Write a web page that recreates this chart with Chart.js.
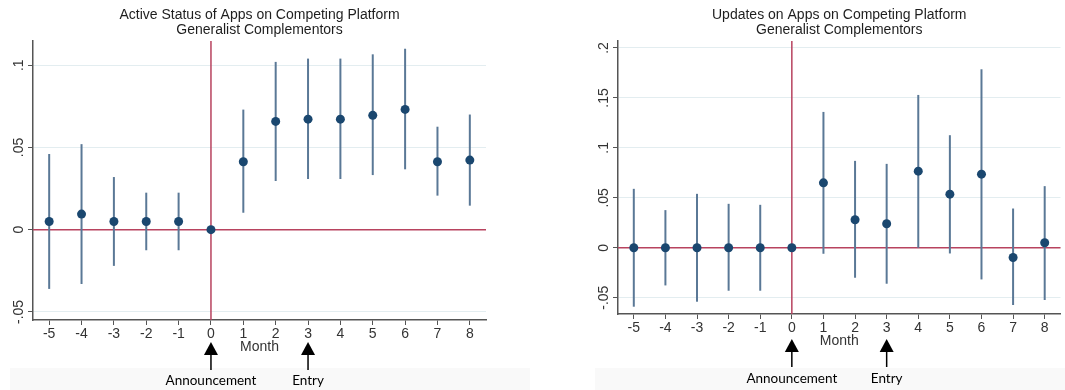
<!DOCTYPE html>
<html>
<head>
<meta charset="utf-8">
<script src="https://cdn.jsdelivr.net/npm/chart.js@4.4.1/dist/chart.umd.min.js"></script>
<style>
  body { margin: 0; background: #fff; width: 1065px; height: 390px; overflow: hidden; position: relative; }
  .panel { position: absolute; top: 0; height: 390px; }
  #p1 { left: 0; width: 540px; }
  #p2 { left: 545px; width: 520px; }
  .band { position: absolute; top: 368px; height: 22px; background: #f9f9f9; }
</style>
</head>
<body>
<div class="band" style="left:10px;width:520px"></div>
<div class="band" style="left:595px;width:470px"></div>
<div class="panel" id="p1"><canvas id="activeChart" width="540" height="390"></canvas></div>
<div class="panel" id="p2"><canvas id="updatesChart" width="520" height="390"></canvas></div>
<script>
// thang tuong doi so voi thong bao
const months = [-5, -4, -3, -2, -1, 0, 1, 2, 3, 4, 5, 6, 7, 8];

// Active status
const activeCoef = [0.005, 0.0095, 0.005, 0.005, 0.005, 0, 0.0413, 0.0658, 0.0672, 0.0672, 0.0695, 0.0731, 0.0413, 0.0423];
const activeLo   = [-0.036, -0.033, -0.022, -0.0125, -0.0125, 0, 0.0103, 0.0296, 0.0308, 0.0308, 0.0332, 0.0367, 0.0207, 0.0146];
const activeHi   = [0.046, 0.052, 0.032, 0.0225, 0.0225, 0, 0.073, 0.102, 0.104, 0.104, 0.1066, 0.110, 0.0626, 0.070];
const activeTicks = [-0.05, 0, 0.05, 0.1];
const activeTickLabels = ['-.05', '0', '.05', '.1'];

// Updates
const updCoef = [0, 0, 0, 0, 0, 0, 0.065, 0.028, 0.024, 0.0767, 0.0537, 0.0737, -0.0097, 0.005];
const updLo   = [-0.059, -0.0377, -0.054, -0.043, -0.043, 0, -0.006, -0.030, -0.036, 0, -0.0057, -0.0317, -0.0573, -0.0523];
const updHi   = [0.059, 0.0377, 0.054, 0.044, 0.043, 0, 0.136, 0.087, 0.084, 0.153, 0.1127, 0.1787, 0.0393, 0.0617];
const updTicks = [-0.05, 0, 0.05, 0.1, 0.15, 0.2];
const updTickLabels = ['-.05', '0', '.05', '.1', '.15', '.2'];

const eventMonths = [0, 3];
const eventLabels = ['Announcement', 'Entry'];

const RED = '#b8435f';
const BAR = '#5a7896';
const DOT = '#1a476f';
const AXIS = '#555';
const FONT = '"Liberation Sans", Arial, sans-serif';

// plugin ve khoang tin cay, duong tham chieu, nhan va mui ten
const stataPlugin = {
  id: 'stata',
  beforeDatasetsDraw(chart, args, opts) {
    const ctx = chart.ctx, x = chart.scales.x, y = chart.scales.y, a = chart.chartArea;
    ctx.save();
    // duong do
    ctx.strokeStyle = RED;
    ctx.lineWidth = 1.5;
    ctx.beginPath();
    ctx.moveTo(a.left, y.getPixelForValue(0));
    ctx.lineTo(a.right, y.getPixelForValue(0));
    ctx.moveTo(x.getPixelForValue(0), a.top);
    ctx.lineTo(x.getPixelForValue(0), a.bottom);
    ctx.stroke();
    // error bars
    ctx.strokeStyle = BAR;
    ctx.lineWidth = 2;
    for (let i = 0; i < months.length; i++) {
      const px = x.getPixelForValue(months[i]);
      ctx.beginPath();
      ctx.moveTo(px, y.getPixelForValue(opts.lo[i]));
      ctx.lineTo(px, y.getPixelForValue(opts.hi[i]));
      ctx.stroke();
    }
    ctx.restore();
  },
  afterDraw(chart, args, opts) {
    const ctx = chart.ctx, x = chart.scales.x, y = chart.scales.y, a = chart.chartArea;
    const cx = (a.left + a.right) / 2;
    ctx.save();
    // tieu de
    ctx.fillStyle = '#1e1e1e';
    ctx.font = '14px ' + FONT;
    ctx.textAlign = 'center';
    ctx.textBaseline = 'middle';
    ctx.fillText(opts.title[0], cx, 15);
    ctx.fillText(opts.title[1], cx, 30);
    // nhan truc y xoay doc
    ctx.fillStyle = '#333';
    ctx.font = '14px ' + FONT;
    opts.ticks.forEach((v, i) => {
      ctx.save();
      ctx.translate(a.left - 14, y.getPixelForValue(v));
      ctx.rotate(-Math.PI / 2);
      ctx.fillText(opts.tickLabels[i], 0, 0);
      ctx.restore();
    });
    // Month
    ctx.fillText('Month', cx, a.bottom + 27);
    // mui ten
    ctx.fillStyle = '#000';
    ctx.strokeStyle = '#000';
    ctx.lineWidth = 1.5;
    eventMonths.forEach((m, i) => {
      const px = x.getPixelForValue(m);
      const t = opts.arrowTop;
      ctx.beginPath();
      ctx.moveTo(px, t);
      ctx.lineTo(px - 7, t + 13);
      ctx.lineTo(px + 7, t + 13);
      ctx.closePath();
      ctx.fill();
      ctx.beginPath();
      ctx.moveTo(px, t + 12);
      ctx.lineTo(px, t + 28);
      ctx.stroke();
      ctx.font = '13.5px Lato, "Open Sans", sans-serif';
      ctx.fillText(eventLabels[i], px, opts.labelY);
    });
    ctx.restore();
  }
};

function makeChart(id, coef, lo, hi, ticks, tickLabels, yMin, yMax, title, pad, yWidth, xHeight, arrowTop, labelY) {
  return new Chart(document.getElementById(id), {
    type: 'scatter',
    data: {
      datasets: [{
        data: months.map((m, i) => ({ x: m, y: coef[i] })),
        backgroundColor: DOT,
        borderWidth: 0,
        pointRadius: 4.5,
        pointHoverRadius: 4.5
      }]
    },
    options: {
      responsive: false,
      animation: false,
      layout: { padding: pad },
      plugins: {
        legend: { display: false },
        tooltip: { enabled: false },
        stata: { lo: lo, hi: hi, ticks: ticks, tickLabels: tickLabels, title: title, arrowTop: arrowTop, labelY: labelY }
      },
      scales: {
        x: {
          type: 'linear',
          min: -5.5,
          max: 8.5,
          afterBuildTicks: s => { s.ticks = months.map(v => ({ value: v })); },
          afterFit: s => { s.height = xHeight; },
          ticks: { font: { family: FONT, size: 14 }, color: '#333', padding: 1, callback: v => String(v) },
          grid: { color: 'transparent', tickColor: AXIS, tickLength: 5 },
          border: { color: AXIS, width: 1.5 }
        },
        y: {
          min: yMin,
          max: yMax,
          afterBuildTicks: s => { s.ticks = ticks.map(v => ({ value: v })); },
          afterFit: s => { s.width = yWidth; },
          ticks: { display: false },
          grid: { color: '#e3edf0', tickColor: AXIS, tickLength: 5 },
          border: { color: AXIS, width: 1.5 }
        }
      }
    },
    plugins: [stataPlugin]
  });
}

makeChart('activeChart', activeCoef, activeLo, activeHi, activeTicks, activeTickLabels, -0.0549, 0.1147,
  ['Active Status of Apps on Competing Platform', 'Generalist Complementors'],
  { left: 0, right: 54, top: 41, bottom: 0 }, 33, 70, 342, 381);

makeChart('updatesChart', updCoef, updLo, updHi, updTicks, updTickLabels, -0.0663, 0.207,
  ['Updates on Apps on Competing Platform', 'Generalist Complementors'],
  { left: 40, right: 2, top: 41, bottom: 0 }, 33, 76, 339, 379);
</script>
</body>
</html>
